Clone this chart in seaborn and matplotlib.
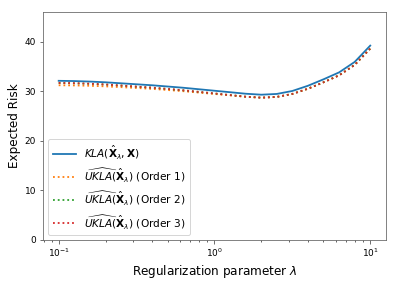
import matplotlib
matplotlib.use("Agg")
import matplotlib.pyplot as plt
import pandas as pd
import seaborn as sns

lam = [0.1, 0.126, 0.158, 0.2, 0.251, 0.316, 0.398, 0.501, 0.631, 0.794, 1.0,
       1.26, 1.58, 2.0, 2.51, 3.16, 3.98, 5.01, 6.31, 7.94, 10.0]
kla = [32.1, 32.05, 31.95, 31.8, 31.6, 31.4, 31.2, 30.95, 30.7, 30.4, 30.1,
       29.8, 29.5, 29.3, 29.45, 30.05, 31.1, 32.4, 33.8, 35.9, 39.2]
order1 = [31.2, 31.17, 31.1, 30.98, 30.82, 30.65, 30.47, 30.24, 30.0, 29.72, 29.44,
          29.17, 28.88, 28.7, 28.85, 29.45, 30.5, 31.8, 33.2, 35.3, 38.6]
order2 = [31.65, 31.6, 31.5, 31.35, 31.14, 30.92, 30.71, 30.45, 30.18, 29.86, 29.55,
          29.22, 28.9, 28.7, 28.85, 29.45, 30.5, 31.8, 33.2, 35.3, 38.6]
order3 = [31.68, 31.62, 31.52, 31.36, 31.15, 30.93, 30.72, 30.46, 30.19, 29.87, 29.55,
          29.22, 28.9, 28.7, 28.85, 29.45, 30.5, 31.8, 33.2, 35.3, 38.6]

labels = [r"$KLA(\hat{\mathbf{X}}_\lambda, \mathbf{X})$",
          r"$\widehat{UKLA}(\hat{\mathbf{X}}_\lambda)$ (Order 1)",
          r"$\widehat{UKLA}(\hat{\mathbf{X}}_\lambda)$ (Order 2)",
          r"$\widehat{UKLA}(\hat{\mathbf{X}}_\lambda)$ (Order 3)"]
colors = sns.color_palette("tab10")[:4]
styles = ["-", ":", ":", ":"]

fig = plt.figure(figsize=(399 / 72, 283 / 72), dpi=72)
ax = fig.add_axes([0.108, 0.152, 0.859, 0.806])

for vals, lab, c, ls in zip([kla, order1, order2, order3], labels, colors, styles):
    df = pd.DataFrame({"lam": lam, "risk": vals})
    sns.lineplot(data=df, x="lam", y="risk", ax=ax, color=c, linestyle=ls, label=lab, linewidth=1.8)

ax.set_xscale("log")
ax.set_ylim(0, 46)
ax.set_xlabel(r"Regularization parameter $\lambda$", fontsize=12)
ax.set_ylabel("Expected Risk", fontsize=12)
ax.tick_params(labelsize=9, color="0.3")
for s in ax.spines.values():
    s.set_color("0.4")
ax.legend(loc="lower left", fontsize=10.5, handlelength=2.2)
fig.savefig("out.png", dpi=72)
